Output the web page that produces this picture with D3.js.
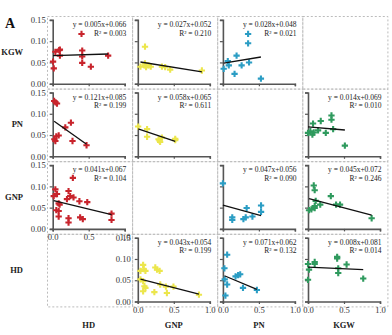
<!DOCTYPE html>
<html>
<head>
<meta charset="utf-8">
<script src="https://cdn.jsdelivr.net/npm/d3@7"></script>
<style>
  html, body { margin: 0; padding: 0; background: #fff; }
  svg { display: block; }
</style>
</head>
<body>
<svg id="chart" width="392" height="335"></svg>
<script>
// Trait names: rows (y variable) and columns (x variable)
const rowTraits = ["KGW", "PN", "GNP", "HD"];
const colTraits = ["HD", "GNP", "PN", "KGW"];

// Axis ticks
const xTickValues = [0, 0.5, 1.0];
const xTickLabels = ["0.0", "0.5", "1.0"];
const yTickValues = [0, 0.05, 0.10, 0.15];
const yTickLabels = ["0.00", "0.05", "0.10", "0.15"];

// Scatter data per panel: [x, y]
const kgwHd = [[0.005,0.052],[0.015,0.036],[0.037,0.075],[0.09,0.079],[0.10,0.080],[0.10,0.066],[0.40,0.117],[0.41,0.078],[0.41,0.064],[0.41,0.049],[0.53,0.040],[0.77,0.066]];
const kgwGnp = [[0.037,0.040],[0.10,0.087],[0.096,0.043],[0.115,0.039],[0.10,0.048],[0.15,0.043],[0.18,0.040],[0.335,0.040],[0.38,0.039],[0.45,0.033],[0.89,0.031]];
const kgwPn = [[0.011,0.035],[0.068,0.053],[0.082,0.043],[0.162,0.023],[0.19,0.066],[0.26,0.043],[0.35,0.117],[0.35,0.095],[0.363,0.050],[0.528,0.012]];
const pnHd = [[0.02,0.130],[0.06,0.124],[0.04,0.127],[0.023,0.040],[0.037,0.036],[0.05,0.047],[0.083,0.049],[0.175,0.068],[0.253,0.079],[0.275,0.036],[0.47,0.026]];
const pnGnp = [[0.005,0.070],[0.129,0.064],[0.129,0.046],[0.288,0.040],[0.31,0.034],[0.335,0.044],[0.30,0.037],[0.52,0.041],[0.52,0.038]];
const pnKgw = [[0.0,0.055],[0.033,0.059],[0.061,0.051],[0.07,0.077],[0.08,0.056],[0.14,0.061],[0.177,0.083],[0.247,0.055],[0.326,0.096],[0.326,0.086],[0.349,0.064],[0.512,0.025]];
const gnpHd = [[0.014,0.077],[0.037,0.093],[0.06,0.082],[0.096,0.057],[0.083,0.060],[0.05,0.044],[0.083,0.042],[0.083,0.029],[0.198,0.070],[0.22,0.089],[0.243,0.077],[0.28,0.120],[0.289,0.074],[0.371,0.065],[0.48,0.063],[0.22,0.025],[0.22,0.015],[0.381,0.027],[0.418,0.023],[0.817,0.036],[0.817,0.021]];
const gnpPn = [[0.0,0.107],[0.13,0.027],[0.13,0.021],[0.285,0.023],[0.317,0.027],[0.33,0.049],[0.41,0.029],[0.53,0.055],[0.53,0.040]];
const gnpKgw = [[0.014,0.044],[0.047,0.046],[0.08,0.102],[0.093,0.091],[0.093,0.049],[0.093,0.054],[0.107,0.066],[0.17,0.057],[0.317,0.077],[0.39,0.057],[0.445,0.057],[0.884,0.025]];
const hdGnp = [[0.074,0.086],[0.083,0.076],[0.037,0.072],[0.106,0.072],[0.037,0.052],[0.074,0.048],[0.092,0.036],[0.106,0.032],[0.074,0.024],[0.243,0.080],[0.267,0.075],[0.303,0.072],[0.23,0.022],[0.312,0.040],[0.39,0.035],[0.404,0.020],[0.495,0.035],[0.849,0.016]];
const hdPn = [[0.059,0.110],[0.021,0.078],[0.025,0.052],[0.059,0.040],[0.035,0.014],[0.176,0.059],[0.211,0.062],[0.24,0.064],[0.279,0.032],[0.472,0.027]];
const hdKgw = [[0.0,0.088],[0.014,0.075],[0.0,0.051],[0.093,0.088],[0.093,0.093],[0.405,0.105],[0.405,0.101],[0.42,0.078],[0.42,0.067],[0.536,0.087],[0.767,0.054]];

// Fitted regressions per panel (row-major, skipping the diagonal)
const panelRows = [0, 0, 0, 1, 1, 1, 2, 2, 2, 3, 3, 3];
const panelCols = [0, 1, 2, 0, 1, 3, 0, 2, 3, 1, 2, 3];
const panelPoints = [kgwHd, kgwGnp, kgwPn, pnHd, pnGnp, pnKgw, gnpHd, gnpPn, gnpKgw, hdGnp, hdPn, hdKgw];
const slopes = [0.005, -0.027, 0.028, -0.121, -0.058, -0.014, -0.041, -0.047, -0.045, -0.043, -0.071, -0.008];
const intercepts = [0.066, 0.052, 0.048, 0.085, 0.065, 0.069, 0.067, 0.056, 0.072, 0.054, 0.062, 0.081];
const rSquared = [0.003, 0.210, 0.021, 0.199, 0.611, 0.010, 0.104, 0.090, 0.246, 0.199, 0.132, 0.014];

// Styling
const colColors = ["#c8242c", "#ece64c", "#2b9dc4", "#2f9a5e"];
const gridLeft = 47.5, gridTop = 16.5, cellW = 85.1, cellH = 72.6;
const axisInset = 5.2, xSpan = 72, yBottomInset = 67.2, yTopInset = 3.4;
const serif = "'Liberation Serif', 'Times New Roman', serif";

const svg = d3.select("#chart");
const fmt3 = d3.format(".3f");

function panelScales(r, c) {
  const left = gridLeft + c * cellW;
  const top = gridTop + r * cellH;
  const x = d3.scaleLinear().domain([0, 1]).range([left + axisInset, left + axisInset + xSpan]);
  const y = d3.scaleLinear().domain([0, 0.15]).range([top + yBottomInset, top + yTopInset]);
  return { left, top, x, y };
}

// Dashed cell frames
for (let r = 0; r < rowTraits.length; r++) {
  for (let c = 0; c < colTraits.length; c++) {
    svg.append("rect")
      .attr("x", gridLeft + c * cellW)
      .attr("y", gridTop + r * cellH)
      .attr("width", cellW)
      .attr("height", cellH)
      .attr("fill", "none")
      .attr("stroke", "#b4b4b4")
      .attr("stroke-width", 0.9)
      .attr("stroke-dasharray", "2,2");
  }
}

// Which panel is leftmost in its row / bottommost in its column
const leftmostCol = rowTraits.map((_, r) => d3.min(panelCols.filter((c, i) => panelRows[i] === r)));
const bottomRow = colTraits.map((_, c) => d3.max(panelRows.filter((r, i) => panelCols[i] === c)));

panelPoints.forEach((pts, i) => {
  const r = panelRows[i], c = panelCols[i];
  const { left, top, x, y } = panelScales(r, c);
  const g = svg.append("g");

  // y axis
  const yAxis = d3.axisLeft(y).tickValues(yTickValues).tickSize(3)
    .tickFormat((d, k) => leftmostCol[r] === c ? yTickLabels[k] : "");
  const ya = g.append("g").attr("transform", `translate(${x(0)},0)`).call(yAxis);
  ya.select(".domain").attr("stroke", "#555").attr("stroke-width", 1.6);
  ya.selectAll(".tick line").attr("stroke", "#555").attr("stroke-width", 1.2);
  ya.selectAll(".tick text").attr("x", -7).attr("font-family", serif).attr("font-size", 8.6).attr("fill", "#333");

  // x axis
  const xAxis = d3.axisBottom(x).tickValues(xTickValues).tickSize(2.5)
    .tickFormat((d, k) => bottomRow[c] === r ? xTickLabels[k] : "");
  const xa = g.append("g").attr("transform", `translate(0,${y(0)})`).call(xAxis);
  xa.select(".domain").attr("stroke", "#555").attr("stroke-width", 1.6);
  xa.selectAll(".tick line").attr("stroke", "#555").attr("stroke-width", 1.2);
  xa.selectAll(".tick text").attr("y", 5).attr("font-family", serif).attr("font-size", 8.6).attr("fill", "#333");

  // points
  g.selectAll("path.pt").data(pts).enter().append("path")
    .attr("class", "pt")
    .attr("d", d3.symbol(d3.symbolCross, 22))
    .attr("transform", d => `translate(${x(d[0])},${y(d[1])})`)
    .attr("fill", colColors[c]);

  // regression line across the x range of the data
  const [x0, x1] = d3.extent(pts, d => d[0]);
  const fit = v => slopes[i] * v + intercepts[i];
  g.append("line")
    .attr("x1", x(x0)).attr("y1", y(fit(x0)))
    .attr("x2", x(x1)).attr("y2", y(fit(x1)))
    .attr("stroke", "#111").attr("stroke-width", 1.3);

  // equation and R²
  const tx = x(1) + 1.5;
  g.append("text")
    .attr("x", tx).attr("y", top + 10.5)
    .attr("text-anchor", "end")
    .attr("font-family", serif).attr("font-size", 7.5).attr("fill", "#222")
    .text(`y = ${fmt3(Math.abs(slopes[i]))}x+${fmt3(intercepts[i])}`);
  g.append("text")
    .attr("x", tx).attr("y", top + 19)
    .attr("text-anchor", "end")
    .attr("font-family", serif).attr("font-size", 7.5).attr("fill", "#222")
    .text(`R² = ${fmt3(rSquared[i])}`);
});

// Row labels
rowTraits.forEach((t, r) => {
  const { y } = panelScales(r, 0);
  svg.append("text")
    .attr("x", 23).attr("y", y(0.075) + 3)
    .attr("text-anchor", "end")
    .attr("font-family", serif).attr("font-weight", "bold").attr("font-size", 8.5).attr("fill", "#222")
    .text(t);
});

// Column labels
colTraits.forEach((t, c) => {
  const { x } = panelScales(3, c);
  svg.append("text")
    .attr("x", x(0.5)).attr("y", 328)
    .attr("text-anchor", "middle")
    .attr("font-family", serif).attr("font-weight", "bold").attr("font-size", 8.5).attr("fill", "#222")
    .text(t);
});

// Panel letter
svg.append("text")
  .attr("x", 5).attr("y", 27.5)
  .attr("font-family", serif).attr("font-weight", "bold").attr("font-size", 14).attr("fill", "#111")
  .text("A");
</script>
</body>
</html>
